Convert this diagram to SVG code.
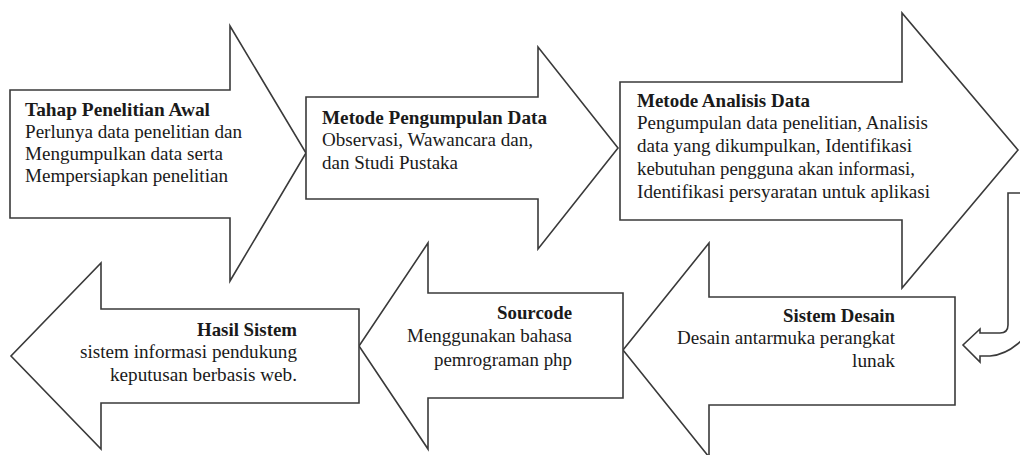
<svg xmlns="http://www.w3.org/2000/svg" width="1020" height="455" viewBox="0 0 1020 455">
<style>
.shape{fill:#fff;stroke:#3a3a3a;stroke-width:1.6;stroke-linejoin:miter}
.conn{fill:none;stroke:#3a3a3a;stroke-width:1.6}
text{font-family:"Liberation Serif","Times New Roman",serif;font-size:19px;fill:#1a1a1a}
.b{font-weight:bold}
.r{text-anchor:end}
</style>
<rect width="1020" height="455" fill="#fff"/>
<g id="node-tahap">
<polygon class="shape" points="10,90 230,90 230,26 306,153 230,281 230,218 10,218"/>
<text class="b" x="25" y="116" textLength="185" lengthAdjust="spacingAndGlyphs">Tahap Penelitian Awal</text>
<text x="25" y="138" textLength="217" lengthAdjust="spacingAndGlyphs">Perlunya data penelitian dan</text>
<text x="25" y="160" textLength="198" lengthAdjust="spacingAndGlyphs">Mengumpulkan data serta</text>
<text x="25" y="182" textLength="203" lengthAdjust="spacingAndGlyphs">Mempersiapkan penelitian</text>
</g>
<g id="node-pengumpulan">
<polygon class="shape" points="306,97 538,97 538,47 618,148 538,249 538,199 306,199"/>
<text class="b" x="322" y="124" textLength="225" lengthAdjust="spacingAndGlyphs">Metode Pengumpulan Data</text>
<text x="322" y="146" textLength="211" lengthAdjust="spacingAndGlyphs">Observasi, Wawancara dan,</text>
<text x="322" y="169" textLength="136" lengthAdjust="spacingAndGlyphs">dan Studi Pustaka</text>
</g>
<g id="node-analisis">
<polygon class="shape" points="620,82 902,82 902,13 1018,150 902,288 902,220 620,220"/>
<text class="b" x="637" y="107" textLength="173" lengthAdjust="spacingAndGlyphs">Metode Analisis Data</text>
<text x="637" y="129" textLength="291" lengthAdjust="spacingAndGlyphs">Pengumpulan data penelitian, Analisis</text>
<text x="637" y="152" textLength="275" lengthAdjust="spacingAndGlyphs">data yang dikumpulkan, Identifikasi</text>
<text x="637" y="175" textLength="278" lengthAdjust="spacingAndGlyphs">kebutuhan pengguna akan informasi,</text>
<text x="637" y="198" textLength="293" lengthAdjust="spacingAndGlyphs">Identifikasi persyaratan untuk aplikasi</text>
</g>
<g id="node-desain">
<polygon class="shape" points="955,297 709,297 709,243 623,350 709,457 709,405 955,405"/>
<text class="b r" x="895" y="322" textLength="112" lengthAdjust="spacingAndGlyphs">Sistem Desain</text>
<text class="r" x="895" y="344" textLength="218" lengthAdjust="spacingAndGlyphs">Desain antarmuka perangkat</text>
<text class="r" x="895" y="367" textLength="43" lengthAdjust="spacingAndGlyphs">lunak</text>
</g>
<g id="node-sourcode">
<polygon class="shape" points="623,293 428,293 428,243 359,346 428,449 428,398 623,398"/>
<text class="b r" x="572" y="319" textLength="75" lengthAdjust="spacingAndGlyphs">Sourcode</text>
<text class="r" x="572" y="342" textLength="165" lengthAdjust="spacingAndGlyphs">Menggunakan bahasa</text>
<text class="r" x="572" y="366" textLength="138" lengthAdjust="spacingAndGlyphs">pemrograman php</text>
</g>
<g id="node-hasil">
<polygon class="shape" points="359,309 101,309 101,263 11,356 101,449 101,403 359,403"/>
<text class="b r" x="297" y="336" textLength="100" lengthAdjust="spacingAndGlyphs">Hasil Sistem</text>
<text class="r" x="297" y="358" textLength="217" lengthAdjust="spacingAndGlyphs">sistem informasi pendukung</text>
<text class="r" x="297" y="381" textLength="187" lengthAdjust="spacingAndGlyphs">keputusan berbasis web.</text>
</g>
<g id="connectors">
<path class="conn" d="M1021,193 L1008,193 L1008,325 Q1008,333 1000,333 L980,333 L980,329 L963,345 L980,362 L980,356 L990,356 Q1006,355 1021,341"/>
</g>
</svg>
